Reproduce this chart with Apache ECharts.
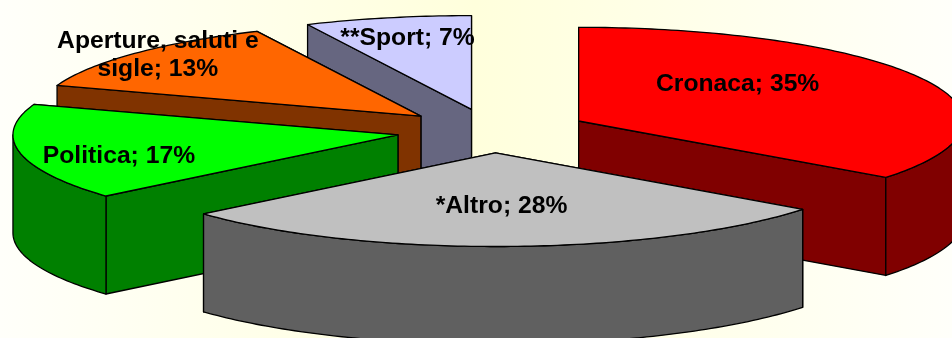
<!DOCTYPE html>
<html>
<head>
<meta charset="utf-8">
<style>html,body{margin:0;padding:0;overflow:hidden}#c{width:952px;height:338px}</style>
<script src="https://cdn.jsdelivr.net/npm/echarts@6/dist/echarts.min.js"></script>
</head>
<body>
<div id="c"></div>
<script>
// Data, in pie order, clockwise from 12 o'clock
const categories = ['Cronaca', '*Altro', 'Politica', 'Aperture, saluti e\nsigle', '**Sport'];
const shares = [35.3, 28.4, 16.6, 12.7, 7.0];
// Styling
const topColors = ['#FF0000', '#C0C0C0', '#00FF00', '#FF6600', '#CCCCFF'];
const sideColors = ['#800000', '#606060', '#008000', '#803300', '#666680'];
// Painter's order of slices (back to front)
const paintRank = [3, 4, 2, 1, 0];
// Label offset from each slice's apex
const labelDx = [159, 6, -279, -263, -64];
const labelDy = [-36.5, 53.5, 21, -60.5, -71.5];
// Pie projection
const CX = 492.5, CY = 130.8, RX = 385, RY = 93.7, DEPTH = 98, EXPLODE_X = 0.25, EXPLODE_Y = 0.235;

const total = shares.reduce((s, v) => s + v, 0);
const rad = d => d * Math.PI / 180;

function renderItem(params, api) {
  const i = params.dataIndex;
  const share = api.value(0);
  let before = 0;
  for (let k = 0; k < i; k++) before += shares[k];
  const a0 = before / total * 360;
  const a1 = (before + share) / total * 360;
  const mid = (a0 + a1) / 2;
  const ax = CX + EXPLODE_X * RX * Math.sin(rad(mid));
  const ay = CY - EXPLODE_Y * RY * Math.cos(rad(mid));
  const pt = a => [ax + RX * Math.sin(rad(a)), ay - RY * Math.cos(rad(a))];
  const down = p => [p[0], p[1] + DEPTH];
  const arc = (from, to) => {
    const out = [], n = Math.max(2, Math.ceil(Math.abs(to - from)));
    for (let k = 0; k <= n; k++) out.push(pt(from + (to - from) * k / n));
    return out;
  };
  const base = paintRank[i] * 10;
  const ln = { stroke: '#000', lineWidth: 1.3, lineJoin: 'round' };
  const poly = (points, fill, z) => ({
    type: 'polygon', silent: true, z2: base + z,
    shape: { points }, style: Object.assign({ fill }, ln)
  });
  const apex = [ax, ay];
  const walls = [pt(a0), pt(a1)].map(p => [apex, p, down(p), down(apex)]);
  walls.sort((w, v) => w[1][1] - v[1][1]);
  const children = [
    poly(walls[0], sideColors[i], 0),
    poly(walls[1], sideColors[i], 1)
  ];
  const f0 = Math.max(a0, 90), f1 = Math.min(a1, 270);
  if (f1 > f0) {
    const outer = arc(f0, f1);
    children.push(poly(outer.concat(outer.slice().reverse().map(down)), sideColors[i], 2));
  }
  children.push(poly([apex].concat(arc(a0, a1)), topColors[i], 3));
  children.push({
    type: 'text', silent: true, z2: 200,
    style: {
      x: ax + labelDx[i], y: ay + labelDy[i],
      text: categories[i] + '; ' + Math.round(share) + '%',
      fill: '#000', font: 'bold 24.7px "Liberation Sans", Arial, sans-serif',
      lineHeight: 28, align: 'center', verticalAlign: 'middle'
    }
  });
  return { type: 'group', children };
}

const chart = echarts.init(document.getElementById('c'), null, { renderer: 'canvas' });
chart.setOption({
  animation: false,
  backgroundColor: {
    type: 'linear', x: 0, y: 0, x2: 1, y2: 0,
    colorStops: [
      { offset: 0, color: '#FFFFFA' },
      { offset: 0.5, color: '#FFFFDC' },
      { offset: 1, color: '#FFFFFA' }
    ]
  },
  series: [{
    type: 'custom',
    coordinateSystem: 'none',
    renderItem,
    data: shares.map((v, i) => ({ name: categories[i], value: [v] }))
  }]
});
</script>
</body>
</html>
